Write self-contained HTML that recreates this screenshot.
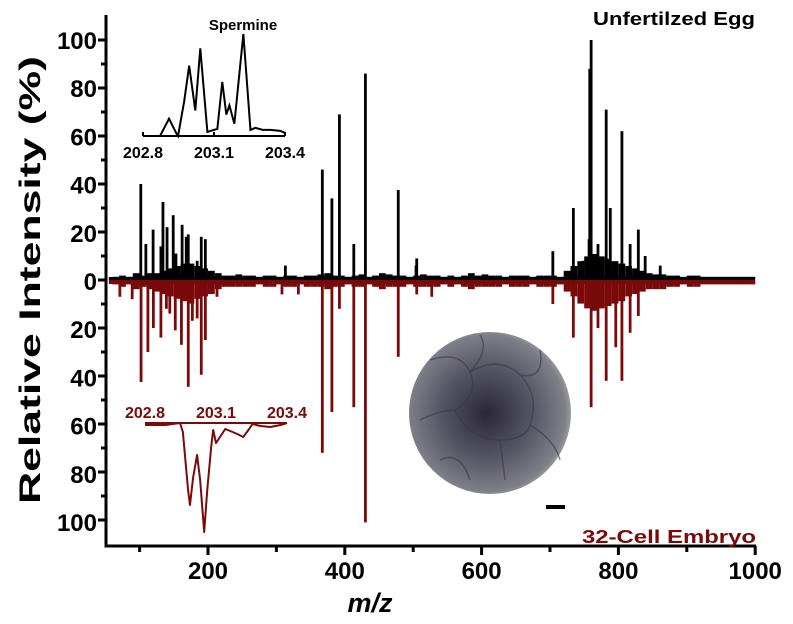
<!DOCTYPE html>
<html><head><meta charset="utf-8"><style>
html,body{margin:0;padding:0;background:#fff;}
svg{display:block;font-family:"Liberation Sans",Arial,sans-serif;font-weight:bold;}
</style></head><body>
<svg id="chart" width="793" height="624" viewBox="0 0 793 624" xmlns="http://www.w3.org/2000/svg">
<defs>
<radialGradient id="emb" cx="0.48" cy="0.5" r="0.55">
<stop offset="0" stop-color="#2a2836"/><stop offset="0.5" stop-color="#555462"/><stop offset="0.88" stop-color="#7f7f88"/><stop offset="1" stop-color="#aeb1a8"/>
</radialGradient>
</defs>
<g id="embryo">
<circle cx="490" cy="413" r="81" fill="url(#emb)"/>
<g stroke="#3a3845" stroke-width="1.5" fill="none" opacity="0.6">
<path d="M430 360 Q460 350 470 372 Q480 395 455 410"/><path d="M470 372 Q500 355 520 375"/><path d="M520 375 Q540 395 530 425"/><path d="M455 410 Q470 440 500 440 Q525 440 530 425"/><path d="M420 420 Q440 410 455 410"/><path d="M500 440 L505 480"/><path d="M540 350 Q545 380 520 375"/><path d="M440 460 Q460 450 470 480"/><path d="M480 335 Q490 350 470 372"/><path d="M530 425 Q555 440 560 460"/>
</g>
</g>
<rect x="546" y="505" width="19" height="4" fill="#000"/>
<g id="plot"></g>
<text x="755" y="25" font-size="18" text-anchor="end" textLength="162" lengthAdjust="spacingAndGlyphs" fill="#000">Unfertilzed Egg</text>
<text x="756" y="543" font-size="18" text-anchor="end" textLength="174" lengthAdjust="spacingAndGlyphs" fill="#7a0a0a">32-Cell Embryo</text>
<text transform="translate(40,280) rotate(-90)" font-size="30" text-anchor="middle" textLength="448" lengthAdjust="spacingAndGlyphs">Relative Intensity (%)</text>
<text x="370" y="612" font-size="27" font-style="italic" text-anchor="middle">m/z</text>
<text x="243" y="30" font-size="15" text-anchor="middle">Spermine</text>
</svg>
<script>
// main spectrum data (m/z, relative intensity %)
const upMz  = [101.6,109,119.6,131,134,140,149,153,162,168,171,184,190,196,313,367,381,392,413,430,478,504,505,704,734,748,757,758,760,770,782,788,805,817,829,839,861];
const upVal = [40,15,21,14,32.5,22,27,11,23,18,19,8,18,17,6,46,34,69,15,86,37.5,6,9,12,30,8,17,88,100,15,71,30,62,15,21,10,6];
const downMz  = [71,89,102,112,120,131,139,144,152,161,171,177,184,190,196,213,308,332,367,381,392,413,430,478,505,527,704,734,760,770,782,796,805,817,829];
const downVal = [7,8,42.5,30,20,24,12,14,21,27,44.5,17,16,39.5,25,7,6,6,72,55,12,53,101,32,6,7,10,24,53,20,42,28,42,22,15];
// baseline noise (every 10 m/z from 60 to 990)
const noiseUp = [0.5,1,0.5,2,1,2,2,3,4,5,6,6,5,4,3,2,1,1,1.5,1,1,0.5,1,1,0.5,1,1,0.5,1,1,1.5,2,1,1,0.5,1,1.5,0.5,1,2,1.5,1,1,0.5,1,1.5,1,1,0.5,1,0.5,1,2,1,1.5,1,1,0.5,1,1,1,0.5,1,1,1,0.5,3,5,7,9,10,9,8,7,6,5,4,3,2,1.5,1.5,1,1,0.5,1,1,0.5,0.5,0.5,0.5,0.5,0.5,0.5,0.5];
const noiseDown = [1,2,1,3,2,3,4,5,6,7,8,9,7,6,5,3,2,2,2,2,2,1,2,2,1,2,2,1,2,2,2,3,2,2,1,2,2,1,2,3,2,2,2,1,2,2,2,2,1,2,1,2,3,2,2,2,2,1,2,2,2,1,2,2,2,1,4,6,9,11,12,11,10,9,8,6,5,4,3,3,3,2,2,1,2,2,1,1,1,1,1,1,1,1];
const xTicks = [200,400,600,800,1000];
const yTicks = [100,80,60,40,20,0,20,40,60,80,100];
// inset data: m/z and relative intensity
const topInsetMz  = [202.8,202.872,202.91,202.94,202.948,202.974,202.995,203.021,203.042,203.072,203.114,203.135,203.152,203.165,203.186,203.224,203.254,203.275,203.305,203.338,203.38,203.4];
const topInsetVal = [0,0,17,3,0,34,69,25,86,4,7,53,21,30,12,100,6,8,6,6,5,3];
const botInsetMz  = [202.8,202.885,202.948,202.96,202.982,202.99,203.003,203.02,203.033,203.05,203.063,203.08,203.088,203.1,203.114,203.139,203.16,203.19,203.215,203.237,203.254,203.288,203.33,203.372,203.4];
const botInsetVal = [2,2,0,9,67,82,55,32,57,109,67,23,7,20,15,6,8,11,14,7,1,3,4,2,0];
const insetTicks = [202.8,203.1,203.4];

const NS='http://www.w3.org/2000/svg';
const plot=document.getElementById('plot');
function mk(tag,attrs,parent){const e=document.createElementNS(NS,tag);for(const k in attrs)e.setAttribute(k,attrs[k]);(parent||plot).appendChild(e);return e;}
const x=v=>208+(v-200)*0.684;
const y0=280, ys=2.4;
const yUp=v=>y0-v*ys, yDn=v=>y0+v*ys;

// noise
for(let i=0;i<noiseUp.length;i++){
  const m=60+i*10;
  const a=mk('rect',{x:x(m),y:yUp(noiseUp[i])-2,width:6.8,height:noiseUp[i]*ys,fill:'#000'});
  
  
  const b=mk('rect',{x:x(m),y:y0+2,width:6.8,height:noiseDown[i]*ys,fill:'#7a0a0a'});
  
  
}
// baseline bands
const bl1=mk('rect',{x:x(55),y:y0-3,width:x(1000)-x(55),height:3,fill:'#000'});


const bl2=mk('rect',{x:x(55),y:y0,width:x(1000)-x(55),height:4,fill:'#7a0a0a'});


// peaks
for(let i=0;i<upMz.length;i++){
  const l=mk('rect',{x:x(upMz[i])-1.3,y:yUp(upVal[i]),width:2.8,height:upVal[i]*ys,fill:'#000'});
  
  
}
for(let i=0;i<downMz.length;i++){
  const l=mk('rect',{x:x(downMz[i])-1.3,y:y0,width:2.8,height:downVal[i]*ys,fill:'#7a0a0a'});
  
  
}
// axes
const ax=mk('path',{d:'M106 15 V546 H756',stroke:'#000','stroke-width':3,fill:'none'});


for(let v=100;v<=1000;v+=100){
  const major=v%200===0;
  const t=mk('line',{x1:x(v),x2:x(v),y1:546,y2:546+(major?9:6),stroke:'#000','stroke-width':3});
  
  
}
xTicks.forEach(v=>{
  const t=mk('text',{x:x(v),y:579,'font-size':24,'text-anchor':'middle'});
  t.textContent=v;
  
  
});
for(let k=-10;k<=10;k++){
  const v=k*10, yy=y0-v*ys, major=k%2===0;
  const t=mk('line',{x1:106-(major?8:5),x2:106,y1:yy,y2:yy,stroke:'#000','stroke-width':3});
  
  
}
yTicks.forEach((v,i)=>{
  const yy=40+i*48.2;
  const t=mk('text',{x:97,y:yy+9,'font-size':24,'text-anchor':'end'});
  t.textContent=v;
  
  
});
// insets
const ix=m=>143+(m-202.8)*236.7;
const tb=136, th=1.02;
let d=topInsetMz.map((m,i)=>(i?'L':'M')+ix(m)+' '+(tb-topInsetVal[i]*th)).join(' ');
const tp=mk('path',{d:d,stroke:'#000','stroke-width':2,fill:'none'});


const ta=mk('line',{x1:ix(202.8),x2:ix(203.4),y1:tb,y2:tb,stroke:'#000','stroke-width':2});


insetTicks.forEach(m=>{
  const t=mk('text',{x:ix(m),y:158,'font-size':16,'text-anchor':'middle'});
  t.textContent=m.toFixed(1);
  
  
  const tk=mk('line',{x1:ix(m),x2:ix(m),y1:tb,y2:tb-4,stroke:'#000','stroke-width':2});
  
  
});
const bb=423;
const ix2=m=>145+(m-202.8)*236.7;
d=botInsetMz.map((m,i)=>(i?'L':'M')+ix2(m)+' '+(bb+botInsetVal[i]*1.0)).join(' ');
const bp=mk('path',{d:d,stroke:'#7a0a0a','stroke-width':2,fill:'none','stroke-linejoin':'round'});


const ba=mk('line',{x1:ix2(202.8),x2:ix2(203.4),y1:bb,y2:bb,stroke:'#7a0a0a','stroke-width':2});


insetTicks.forEach(m=>{
  const t=mk('text',{x:ix2(m),y:418,'font-size':16,'text-anchor':'middle',fill:'#7a0a0a'});
  t.textContent=m.toFixed(1);
  
  
});
</script>
</body></html>
